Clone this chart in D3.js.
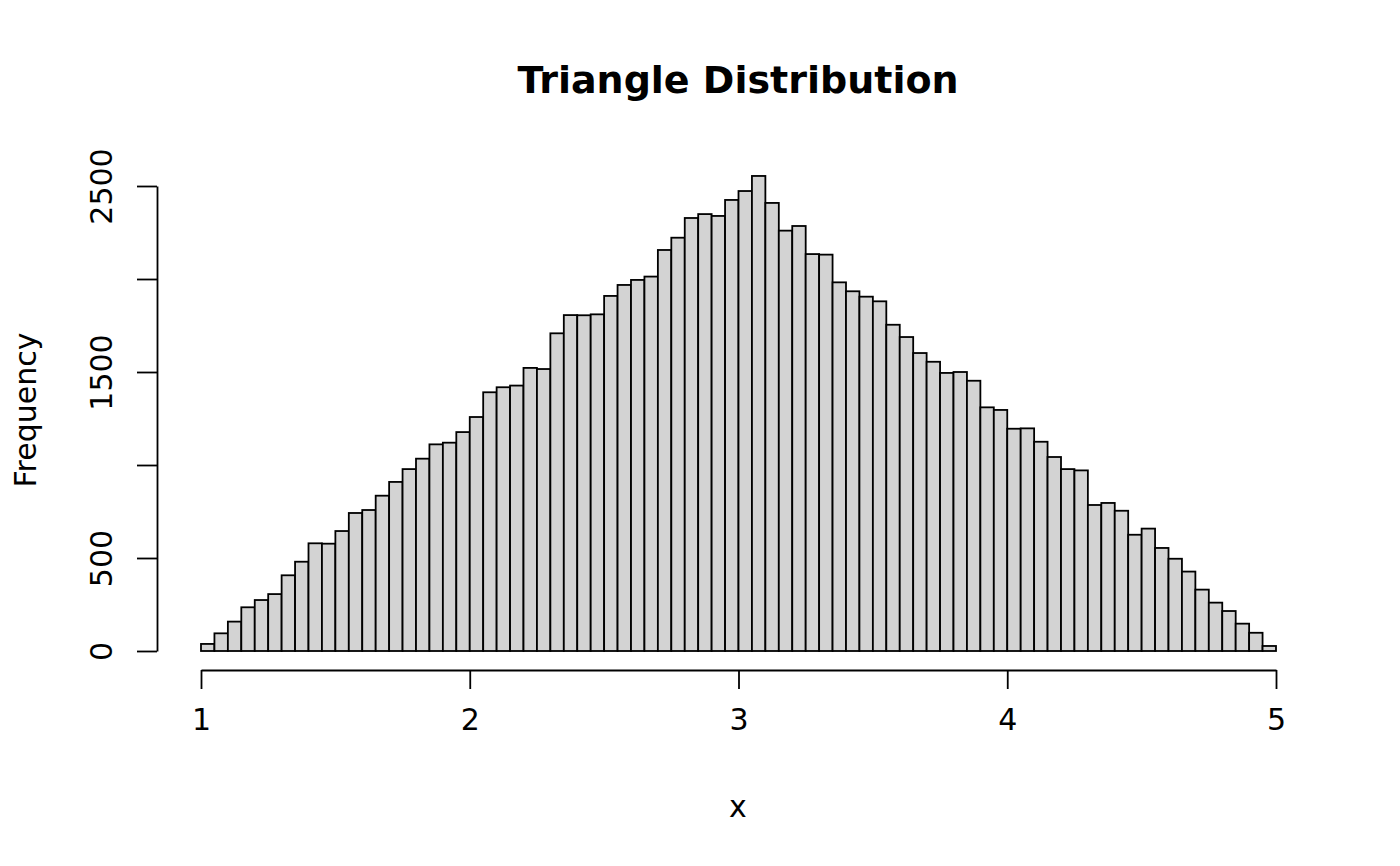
<!DOCTYPE html>
<html>
<head>
<meta charset="utf-8">
<script src="https://cdn.jsdelivr.net/npm/d3@7"></script>
<style>
  html, body { margin: 0; padding: 0; background: #fff; }
  svg { display: block; font-family: "DejaVu Sans", sans-serif; }
</style>
</head>
<body>
<svg id="chart"></svg>
<script>
// histogram counts, one per bin of width 0.05 starting at x = 1
const binStart = 1;
const binWidth = 0.05;
const counts = [
  38, 95, 158, 235, 274, 306, 407, 480, 579, 577,
  645, 742, 758, 835, 909, 978, 1034, 1111, 1120, 1177,
  1258, 1391, 1418, 1427, 1522, 1516, 1708, 1806, 1805, 1810,
  1909, 1968, 1995, 2013, 2156, 2222, 2328, 2349, 2339, 2425,
  2473, 2554, 2409, 2260, 2285, 2134, 2131, 1982, 1934, 1905,
  1880, 1754, 1688, 1602, 1555, 1495, 1500, 1453, 1310, 1296,
  1195, 1197, 1125, 1043, 978, 971, 785, 796, 754, 625,
  658, 554, 496, 427, 330, 260, 215, 147, 98, 27
];
const xTicks = [1, 2, 3, 4, 5];
const yTicks = [0, 500, 1000, 1500, 2000, 2500];
// R drops the labels that would overlap
const yTickLabels = [0, 500, 1500, 2500];

const width = 1400, height = 866;

const svg = d3.select("#chart")
  .attr("width", width)
  .attr("height", height);

const x = d3.scaleLinear().domain([1, 5]).range([201, 1276]);
const y = d3.scaleLinear().domain([0, 2500]).range([651, 186]);

// bars
svg.append("g")
  .selectAll("rect")
  .data(counts)
  .join("rect")
  .attr("x", (d, i) => x(binStart + i * binWidth))
  .attr("width", (d, i) => x(binStart + (i + 1) * binWidth) - x(binStart + i * binWidth))
  .attr("y", d => y(d))
  .attr("height", d => y(0) - y(d))
  .attr("fill", "#d3d3d3")
  .attr("stroke", "#000")
  .attr("stroke-width", 1.8);

// x axis, offset below the plot like R does
const xAxis = d3.axisBottom(x)
  .tickValues(xTicks)
  .tickFormat(d3.format("d"))
  .tickSize(19)
  .tickPadding(20)
  .tickSizeOuter(0);

const xAxisG = svg.append("g")
  .attr("transform", "translate(0,670)")
  .call(xAxis);
xAxisG.select(".domain").attr("stroke-width", 1.8);
xAxisG.selectAll(".tick line").attr("stroke-width", 1.8);
xAxisG.selectAll(".tick text")
  .attr("font-size", 30)
  .attr("font-family", "DejaVu Sans")
  .attr("fill", "#000");

// y axis
const yAxis = d3.axisLeft(y)
  .tickValues(yTicks)
  .tickFormat(d => yTickLabels.includes(d) ? d : "")
  .tickSize(20)
  .tickSizeOuter(0);

const yAxisG = svg.append("g")
  .attr("transform", "translate(157,0)")
  .call(yAxis);
yAxisG.select(".domain").attr("stroke-width", 1.8);
yAxisG.selectAll(".tick line").attr("stroke-width", 1.8);
yAxisG.selectAll(".tick text")
  .attr("font-size", 30)
  .attr("font-family", "DejaVu Sans")
  .attr("fill", "#000")
  .attr("text-anchor", "middle")
  .attr("dy", 0)
  .attr("x", 0)
  .attr("transform", "translate(-45,0) rotate(-90)");

// title and axis titles
svg.append("text")
  .attr("x", 738)
  .attr("y", 93)
  .attr("text-anchor", "middle")
  .attr("font-size", 38)
  .attr("font-weight", "bold")
  .text("Triangle Distribution");

svg.append("text")
  .attr("x", 738)
  .attr("y", 817)
  .attr("text-anchor", "middle")
  .attr("font-size", 30)
  .text("x");

svg.append("text")
  .attr("transform", "translate(36,410) rotate(-90)")
  .attr("text-anchor", "middle")
  .attr("font-size", 30)
  .text("Frequency");
</script>
</body>
</html>
